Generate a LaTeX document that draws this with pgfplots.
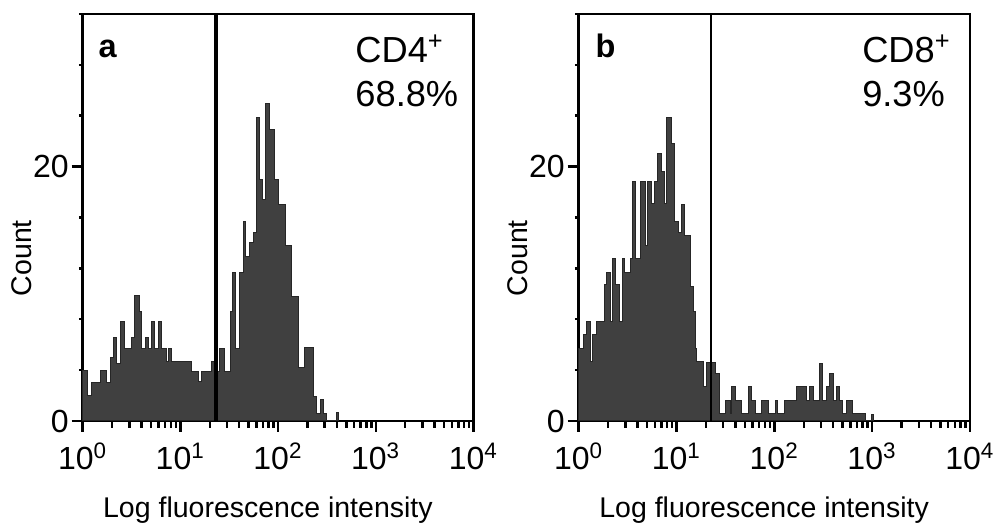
\documentclass[border=0pt]{standalone}
\usepackage{fontspec}
\setmainfont{Liberation Sans}
\usepackage{pgfplots}
\pgfplotsset{compat=1.18}

\definecolor{histfill}{gray}{0.25}

% shared look of the two flow panels (x in decades, 10^0 .. 10^4)
\pgfplotsset{
  flowpanel/.style={
    scale only axis, anchor=south west,
    width=156.3pt, height=162.8pt,
    xmin=0, xmax=4, ymin=0, ymax=32,
    axis line style={line width=1pt},
    tick align=outside, tick pos=left,
    xtick={0,1,2,3,4},
    xticklabels={10\textsuperscript{0},10\textsuperscript{1},10\textsuperscript{2},10\textsuperscript{3},10\textsuperscript{4}},
    minor xtick={0.301,0.477,0.602,0.699,0.778,0.845,0.903,0.954,
                 1.301,1.477,1.602,1.699,1.778,1.845,1.903,1.954,
                 2.301,2.477,2.602,2.699,2.778,2.845,2.903,2.954,
                 3.301,3.477,3.602,3.699,3.778,3.845,3.903,3.954},
    ytick={0,20},
    extra y ticks={4,8,12,16,24,28,32},
    extra y tick labels={},
    extra y tick style={major tick length=1.5pt},
    major tick length=4.4pt, minor tick length=2.8pt,
    every tick/.style={black, line width=1pt},
    /pgf/number format/assume math mode=true,
    tick label style={font=\fontsize{12.8}{15}\selectfont},
    xticklabel style={inner sep=1.5pt, yshift=-2.8pt},
    yticklabel style={inner sep=1pt},
    label style={font=\fontsize{11.4}{13}\selectfont},
    xlabel={Log fluorescence intensity},
    ylabel={Count},
    xlabel style={at={(axis description cs:0.474,-0.236)}, anchor=base},
    ylabel style={at={(axis description cs:-0.155,0.4)}, anchor=center},
    clip=false,
  },
  hist/.style={const plot, fill=histfill, draw=black!85, line width=0.4pt},
}
\tikzset{
  panellabel/.style={anchor=base west, inner sep=0pt, font=\fontsize{13}{15}\selectfont\bfseries},
  gatetext/.style={anchor=base west, inner sep=0pt, font=\fontsize{14.5}{17}\selectfont},
}

\begin{document}
\begin{tikzpicture}
\path[use as bounding box] (0pt,0pt) rectangle (399.2pt,-210.4pt);

% panel a: CD4
\begin{axis}[flowpanel, at={(33.08pt,-168.4pt)}]
\addplot[hist] coordinates {
  (0,4) (0.047,2) (0.092,3) (0.184,4) (0.246,3) (0.287,5) (0.313,6.6)
  (0.351,4.5) (0.382,7.8) (0.433,5.7) (0.502,6.6) (0.535,9.9) (0.586,8.6)
  (0.604,5.7) (0.638,6.6) (0.671,5.7) (0.706,7.8) (0.740,5.7) (0.774,7.8)
  (0.809,5.7) (0.860,4.7) (0.876,5.7) (0.911,4.7) (1.116,3.9) (1.183,3.1)
  (1.218,3.9) (1.320,4.7) (1.378,3.9) (1.405,5.7) (1.456,3.9)
  (1.508,8.6) (1.535,11.7) (1.569,5.7) (1.610,11.7) (1.644,15.7) (1.671,12.9)
  (1.712,14) (1.746,14.8) (1.781,23.9) (1.808,19) (1.842,17.4) (1.876,25)
  (1.917,22.9) (1.968,19) (2.002,17) (2.071,13.8) (2.139,9.8) (2.214,4.2)
  (2.275,5.8) (2.360,1.9) (2.398,0.6) (2.439,1.7) (2.463,0.6) (2.500,0)
  (2.603,0.7) (2.623,0)
} \closedcycle;
\addplot[black, line width=1.3pt] coordinates {(1.364,0) (1.364,32)};
\node[panellabel] at (axis cs:0.157,28.6) {a};
\node[gatetext] at (axis cs:2.787,28.2) {CD4\textsuperscript{+}};
\node[gatetext] at (axis cs:2.787,24.7) {68.8\%};
\end{axis}

% panel b: CD8
\begin{axis}[flowpanel, at={(231.48pt,-168.4pt)}, width=156.5pt]
\addplot[hist] coordinates {
  (0,5.7) (0.047,6.8) (0.082,7.8) (0.116,4.7) (0.139,6.8) (0.184,7.8)
  (0.262,10.7) (0.286,11.7) (0.320,7.8) (0.344,12.8) (0.378,10.7) (0.412,7.8)
  (0.450,12.8) (0.473,11.7) (0.525,12.8) (0.548,18.8) (0.576,12.8) (0.627,18.8)
  (0.678,13.8) (0.701,18.8) (0.746,17.1) (0.773,18.8) (0.804,21) (0.842,19.6)
  (0.875,17.1) (0.900,23.9) (0.951,21.8) (0.977,15.7) (1.018,14.8) (1.046,17)
  (1.080,14.6) (1.138,10.6) (1.172,8.6) (1.189,5.7) (1.207,4.7) (1.274,2.7)
  (1.309,4.6) (1.394,3.7) (1.438,0.6) (1.496,1.65) (1.547,0.6) (1.564,2.7)
  (1.608,1.65) (1.667,0.6) (1.734,2.7) (1.769,1.65) (1.803,0.6) (1.871,1.65)
  (1.939,0.6) (2.007,1.65) (2.031,0.6) (2.099,1.65) (2.229,2.7) (2.331,1.65)
  (2.358,2.7) (2.399,1.65) (2.460,4.5) (2.495,1.65) (2.529,2.7) (2.562,3.7)
  (2.603,1.65) (2.631,2.7) (2.665,1.65) (2.699,0.6) (2.740,1.65) (2.802,0.6)
  (2.935,0) (2.996,0.5) (3.019,0)
} \closedcycle;
\addplot[black, line width=0.8pt] coordinates {(1.353,0) (1.353,32)};
\node[panellabel] at (axis cs:0.167,28.6) {b};
\node[gatetext] at (axis cs:2.894,28.2) {CD8\textsuperscript{+}};
\node[gatetext] at (axis cs:2.894,24.7) {9.3\%};
\end{axis}
\end{tikzpicture}
\end{document}
